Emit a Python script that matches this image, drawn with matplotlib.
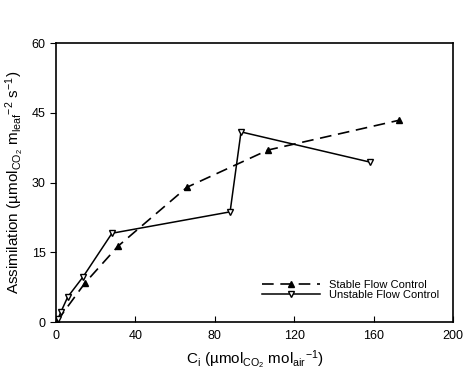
import numpy as np
import matplotlib.pyplot as plt

plt.rcParams['font.family'] = ['Liberation Sans', 'DejaVu Sans']
plt.rcParams['mathtext.default'] = 'regular'

# stable flow control
ci_stable = [0.5, 14.6, 31.2, 66, 106.8, 172.8]
a_stable = [0.2, 8.4, 16.3, 29, 37, 43.4]

# unstable flow control
ci_unstable = [0.9, 2.5, 5.9, 13.6, 28.2, 87.7, 93.2, 158.2]
a_unstable = [0.6, 2.2, 5.4, 9.7, 19.1, 23.7, 40.9, 34.4]

x_ticks = [0, 40, 80, 120, 160, 200]
y_ticks = [0, 15, 30, 45, 60]

fig = plt.figure(figsize=(4.77, 3.78), dpi=100)
ax = fig.add_axes([0.1174, 0.148, 0.8323, 0.738])

ax.plot(ci_stable, a_stable, color='black', lw=1.2, dashes=(7, 4),
        marker='^', ms=5, mfc='black', mec='black', label='Stable Flow Control')
ax.plot(ci_unstable, a_unstable, color='black', lw=1.1,
        marker='v', ms=5, mfc='white', mec='black', mew=1.0, label='Unstable Flow Control')

ax.set_xlim(0, 200)
ax.set_ylim(0, 60)
ax.set_xticks(x_ticks)
ax.set_yticks(y_ticks)
ax.tick_params(axis='x', direction='in', length=4, labelsize=9, pad=6)
ax.tick_params(axis='y', direction='out', length=4, labelsize=9)
for s in ax.spines.values():
    s.set_linewidth(1.2)

ax.set_xlabel(r'C$_{i}$ (µmol$_{CO_2}$ mol$_{air}$$^{-1}$)', fontsize=11)
ax.set_ylabel(r'Assimilation (µmol$_{CO_2}$ m$_{leaf}$$^{-2}$ s$^{-1}$)', fontsize=11)

ax.legend(loc='lower right', bbox_to_anchor=(0.985, 0.05), frameon=False, fontsize=8,
          handlelength=5.2, labelspacing=0.05, borderaxespad=0.3)

fig.savefig('out.png', dpi=100)
